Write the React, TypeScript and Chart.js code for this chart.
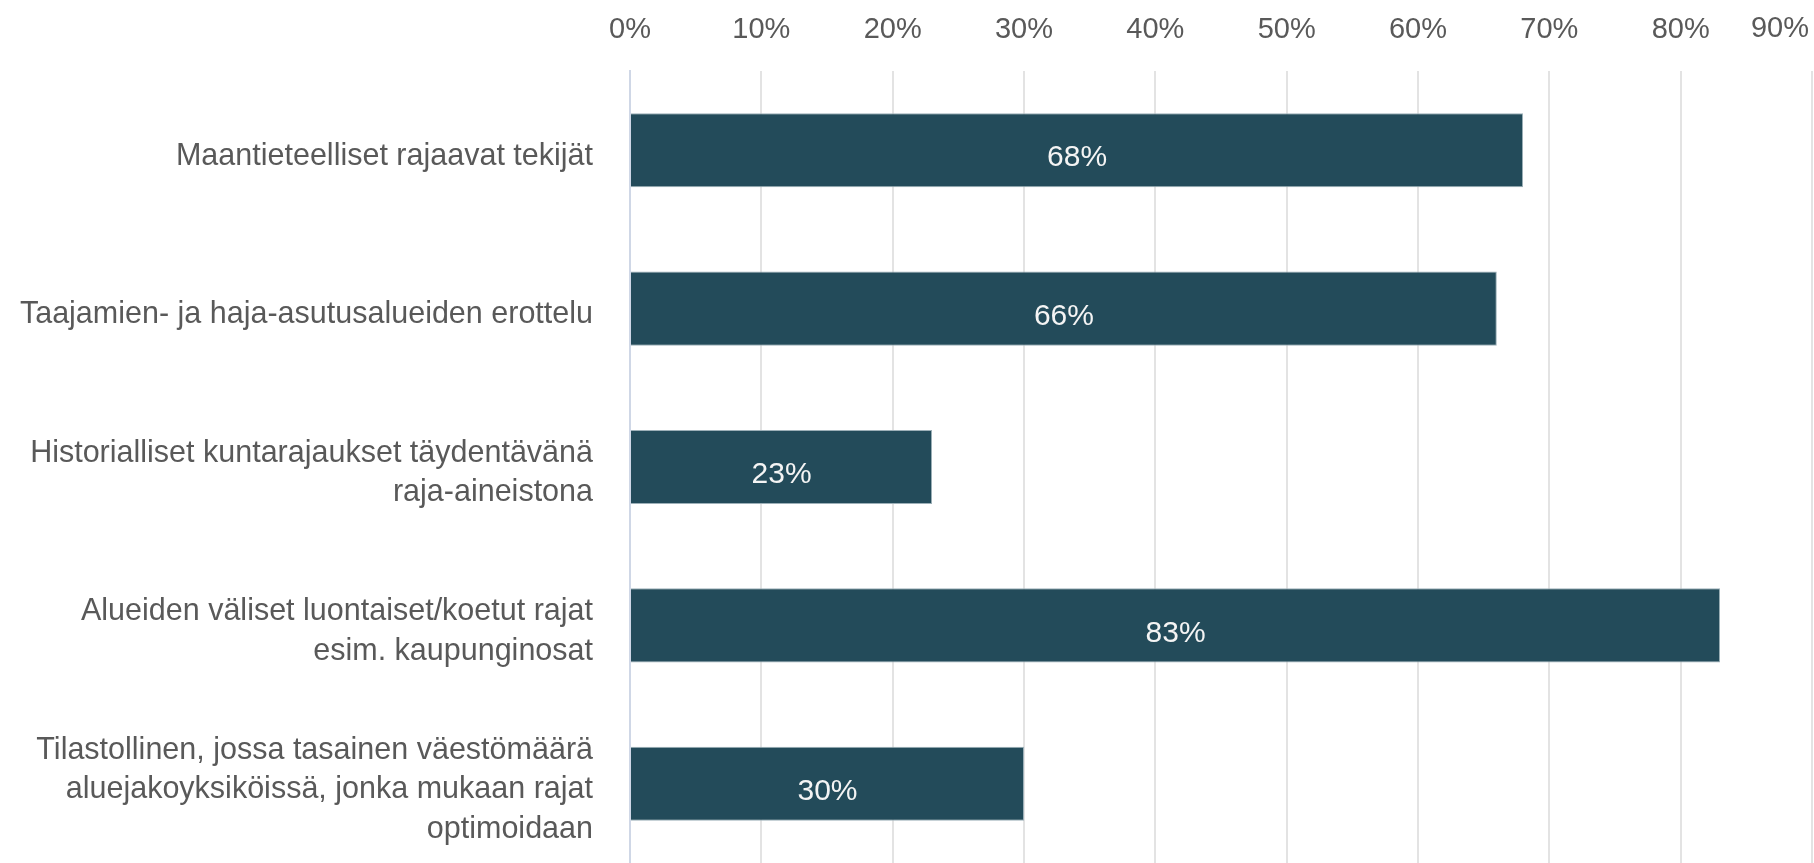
import React, { useEffect, useRef } from 'react';
import { Chart, registerables } from 'chart.js';

Chart.register(...registerables);

const categories: string[][] = [
  ['Maantieteelliset rajaavat tekijät'],
  ['Taajamien- ja haja-asutusalueiden erottelu'],
  ['Historialliset kuntarajaukset täydentävänä', 'raja-aineistona'],
  ['Alueiden väliset luontaiset/koetut rajat', 'esim. kaupunginosat'],
  ['Tilastollinen, jossa tasainen väestömäärä', 'aluejakoyksiköissä, jonka mukaan rajat', 'optimoidaan'],
];
const values: number[] = [68, 66, 23, 83, 30];
const valueLabels: string[] = ['68%', '66%', '23%', '83%', '30%'];
const xMin = 0;
const xMax = 90;
const xStep = 10;
const xTickLabels: string[] = ['0%', '10%', '20%', '30%', '40%', '50%', '60%', '70%', '80%', '90%'];

const FONT = '"Liberation Sans", Arial, sans-serif';
const TEXT_COLOR = '#595959';

const overlayPlugin = {
  id: 'overlayLabels',
  afterDatasetsDraw(chart: any) {
    const { ctx } = chart;
    const meta = chart.getDatasetMeta(0);
    ctx.save();
    ctx.font = `30px ${FONT}`;
    ctx.fillStyle = '#f4f4f4';
    ctx.textAlign = 'center';
    ctx.textBaseline = 'middle';
    meta.data.forEach((bar: any, i: number) => {
      const x = (bar.x + bar.base) / 2;
      ctx.fillText(valueLabels[i], x, bar.y + 8);
    });
    ctx.restore();
  },
  afterDraw(chart: any) {
    const { ctx } = chart;
    const xs = chart.scales.x;
    const last = xTickLabels.length - 1;
    const label = xTickLabels[last];
    ctx.save();
    ctx.font = `29px ${FONT}`;
    ctx.fillStyle = TEXT_COLOR;
    ctx.textBaseline = 'middle';
    ctx.textAlign = 'center';
    const w = ctx.measureText(label).width;
    let x = xs.getPixelForValue(xMin + last * xStep);
    const maxX = chart.width - 5 - w / 2;
    if (x > maxX) x = maxX;
    ctx.fillText(label, x, 29);
    ctx.restore();
  },
};

export default function App() {
  const canvasRef = useRef<HTMLCanvasElement | null>(null);

  useEffect(() => {
    document.body.style.margin = '0';
    document.body.style.overflow = 'hidden';
    const canvas = canvasRef.current;
    if (!canvas) return;
    const chart = new Chart(canvas, {
      type: 'bar',
      data: {
        labels: categories,
        datasets: [
          {
            data: values,
            backgroundColor: '#234B5A',
            borderColor: '#9db0b8',
            borderWidth: 1,
            barPercentage: 0.468,
            categoryPercentage: 1,
          },
        ],
      },
      options: {
        indexAxis: 'y',
        animation: false,
        responsive: false,
        events: [],
        layout: { padding: { left: 0, right: 2, top: 0, bottom: 0 } },
        plugins: {
          legend: { display: false },
          tooltip: { enabled: false },
          title: { display: false },
        },
        scales: {
          x: {
            position: 'top',
            min: xMin,
            max: xMax,
            ticks: {
              stepSize: xStep,
              padding: 24,
              color: TEXT_COLOR,
              font: { family: FONT, size: 29 },
              maxRotation: 0,
              autoSkip: false,
              callback: (_v: any, index: number) =>
                index === xTickLabels.length - 1 ? '' : xTickLabels[index],
            },
            grid: {
              color: '#e3e3e3',
              lineWidth: 2,
              drawTicks: false,
            },
            border: { display: false },
            afterFit: (scale: any) => {
              scale.height = 71;
              scale.paddingLeft = 0;
              scale.paddingRight = 0;
            },
          },
          y: {
            ticks: {
              padding: 37,
              labelOffset: 6,
              color: TEXT_COLOR,
              font: { family: FONT, size: 30.5, lineHeight: 1.3 },
              autoSkip: false,
            },
            grid: { display: false, drawTicks: false },
            border: { display: true, color: '#cfd7e6', width: 2 },
            afterFit: (scale: any) => {
              scale.width = 630;
              scale.paddingTop = 0;
              scale.paddingBottom = 0;
            },
          },
        },
      },
      plugins: [overlayPlugin],
    });
    return () => chart.destroy();
  }, []);

  return (
    <div style={{ width: 1814, height: 863, background: '#ffffff' }}>
      <canvas ref={canvasRef} width={1814} height={863} style={{ display: 'block' }} />
    </div>
  );
}
